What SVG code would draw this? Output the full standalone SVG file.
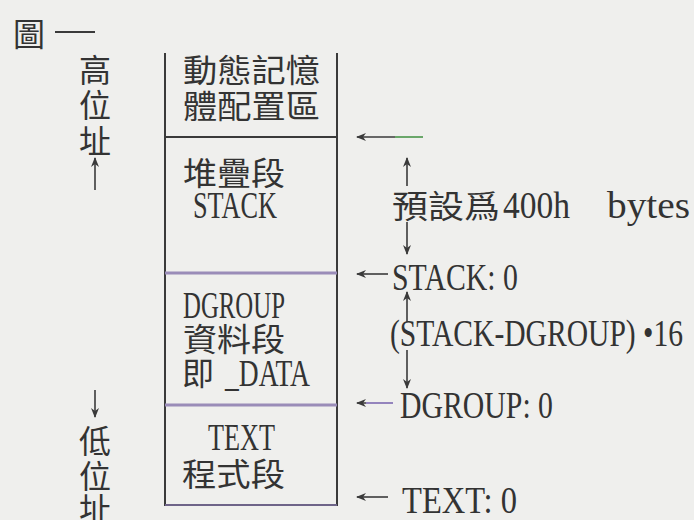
<svg xmlns="http://www.w3.org/2000/svg" width="694" height="520" viewBox="0 0 694 520">
<defs>
<marker id="ah" viewBox="0 0 10 8" refX="9" refY="4" markerWidth="10" markerHeight="8" markerUnits="userSpaceOnUse" orient="auto">
<path d="M0,0 L10,4 L0,8 L3,4 Z" fill="#3a3a3a"/>
</marker>
</defs>
<style>
.bg{fill:#efefed}
.frame{stroke:#3a3a3a;stroke-width:2;fill:none}
.sep{stroke:#9a8cb8;stroke-width:3;fill:none}
.cjk{font-family:"Noto Sans CJK TC","Noto Sans CJK SC",sans-serif;font-size:32px;fill:#333}
.lat{font-family:"Liberation Serif",serif;font-size:38px;fill:#333}
.arr{stroke:#3a3a3a;stroke-width:1.6;fill:none;marker-end:url(#ah)}
.ln{stroke:#3a3a3a;stroke-width:1.6;fill:none}
</style>
<rect class="bg" x="0" y="0" width="694" height="520"/>

<g id="title">
<text class="cjk" x="13" y="46">圖</text>
<line x1="55" y1="32" x2="95" y2="32" stroke="#3a3a3a" stroke-width="2"/>
</g>

<g id="high-address">
<text class="cjk" x="79" y="82">高</text>
<text class="cjk" x="79" y="117">位</text>
<text class="cjk" x="79" y="153">址</text>
</g>

<g id="low-address">
<text class="cjk" x="79" y="453">低</text>
<text class="cjk" x="79" y="488">位</text>
<text class="cjk" x="79" y="521">址</text>
</g>

<g id="memory-box">
<line class="frame" x1="165" y1="53" x2="165" y2="506"/>
<line class="frame" x1="337" y1="53" x2="337" y2="506"/>
</g>

<g id="heap">
<text class="cjk" x="183" y="82" textLength="137" lengthAdjust="spacingAndGlyphs">動態記憶</text>
<text class="cjk" x="183" y="118" textLength="137" lengthAdjust="spacingAndGlyphs">體配置區</text>
<line class="frame" x1="165" y1="137" x2="337" y2="137"/>
</g>

<g id="stack-seg">
<text class="cjk" x="183" y="185" textLength="102" lengthAdjust="spacingAndGlyphs">堆疊段</text>
<text class="lat" x="193" y="218" textLength="84" lengthAdjust="spacingAndGlyphs">STACK</text>
<line class="sep" x1="165" y1="273" x2="337" y2="273"/>
</g>

<g id="data-seg">
<text class="lat" x="183" y="318" textLength="102" lengthAdjust="spacingAndGlyphs">DGROUP</text>
<text class="cjk" x="183" y="351" textLength="102" lengthAdjust="spacingAndGlyphs">資料段</text>
<text class="cjk" x="182" y="385">即</text>
<text class="lat" x="225" y="386" textLength="85" lengthAdjust="spacingAndGlyphs">_DATA</text>
<line class="sep" x1="165" y1="405" x2="337" y2="405"/>
</g>

<g id="text-seg">
<text class="lat" x="208" y="450" textLength="67" lengthAdjust="spacingAndGlyphs">TEXT</text>
<text class="cjk" x="182" y="486" textLength="103" lengthAdjust="spacingAndGlyphs">程式段</text>
<line x1="165" y1="505" x2="337" y2="505" stroke="#6e6488" stroke-width="2"/>
</g>

<g id="labels">
<text class="cjk" x="392" y="218" textLength="108" lengthAdjust="spacingAndGlyphs">預設爲</text>
<text class="lat" x="503" y="218" textLength="67" lengthAdjust="spacingAndGlyphs">400h</text>
<text class="lat" x="607" y="218" textLength="83" lengthAdjust="spacingAndGlyphs">bytes</text>
<text class="lat" x="392" y="290" textLength="126" lengthAdjust="spacingAndGlyphs">STACK: 0</text>
<text class="lat" x="390" y="346" textLength="293" lengthAdjust="spacingAndGlyphs">(STACK-DGROUP) •16</text>
<text class="lat" x="400" y="418" textLength="153" lengthAdjust="spacingAndGlyphs">DGROUP:  0</text>
<text class="lat" x="402" y="513" textLength="115" lengthAdjust="spacingAndGlyphs">TEXT: 0</text>
</g>

<g id="connectors">
<line class="arr" x1="423" y1="137" x2="357" y2="137"/>
<line x1="395" y1="137" x2="423" y2="137" stroke="#6cb86c" stroke-width="1.6"/>
<line class="arr" x1="407" y1="186" x2="407" y2="158"/>
<line class="arr" x1="407" y1="222" x2="407" y2="254"/>
<line class="arr" x1="388" y1="274" x2="357" y2="274"/>
<line class="arr" x1="407" y1="322" x2="407" y2="292"/>
<line class="arr" x1="407" y1="350" x2="407" y2="388"/>
<line class="arr" x1="393" y1="403" x2="357" y2="403"/>
<line x1="366" y1="403" x2="393" y2="403" stroke="#9a88c8" stroke-width="1.8"/>
<line class="arr" x1="388" y1="497" x2="357" y2="497"/>
<line class="arr" x1="95" y1="190" x2="95" y2="158"/>
<line class="arr" x1="95" y1="390" x2="95" y2="417"/>
</g>
</svg>
